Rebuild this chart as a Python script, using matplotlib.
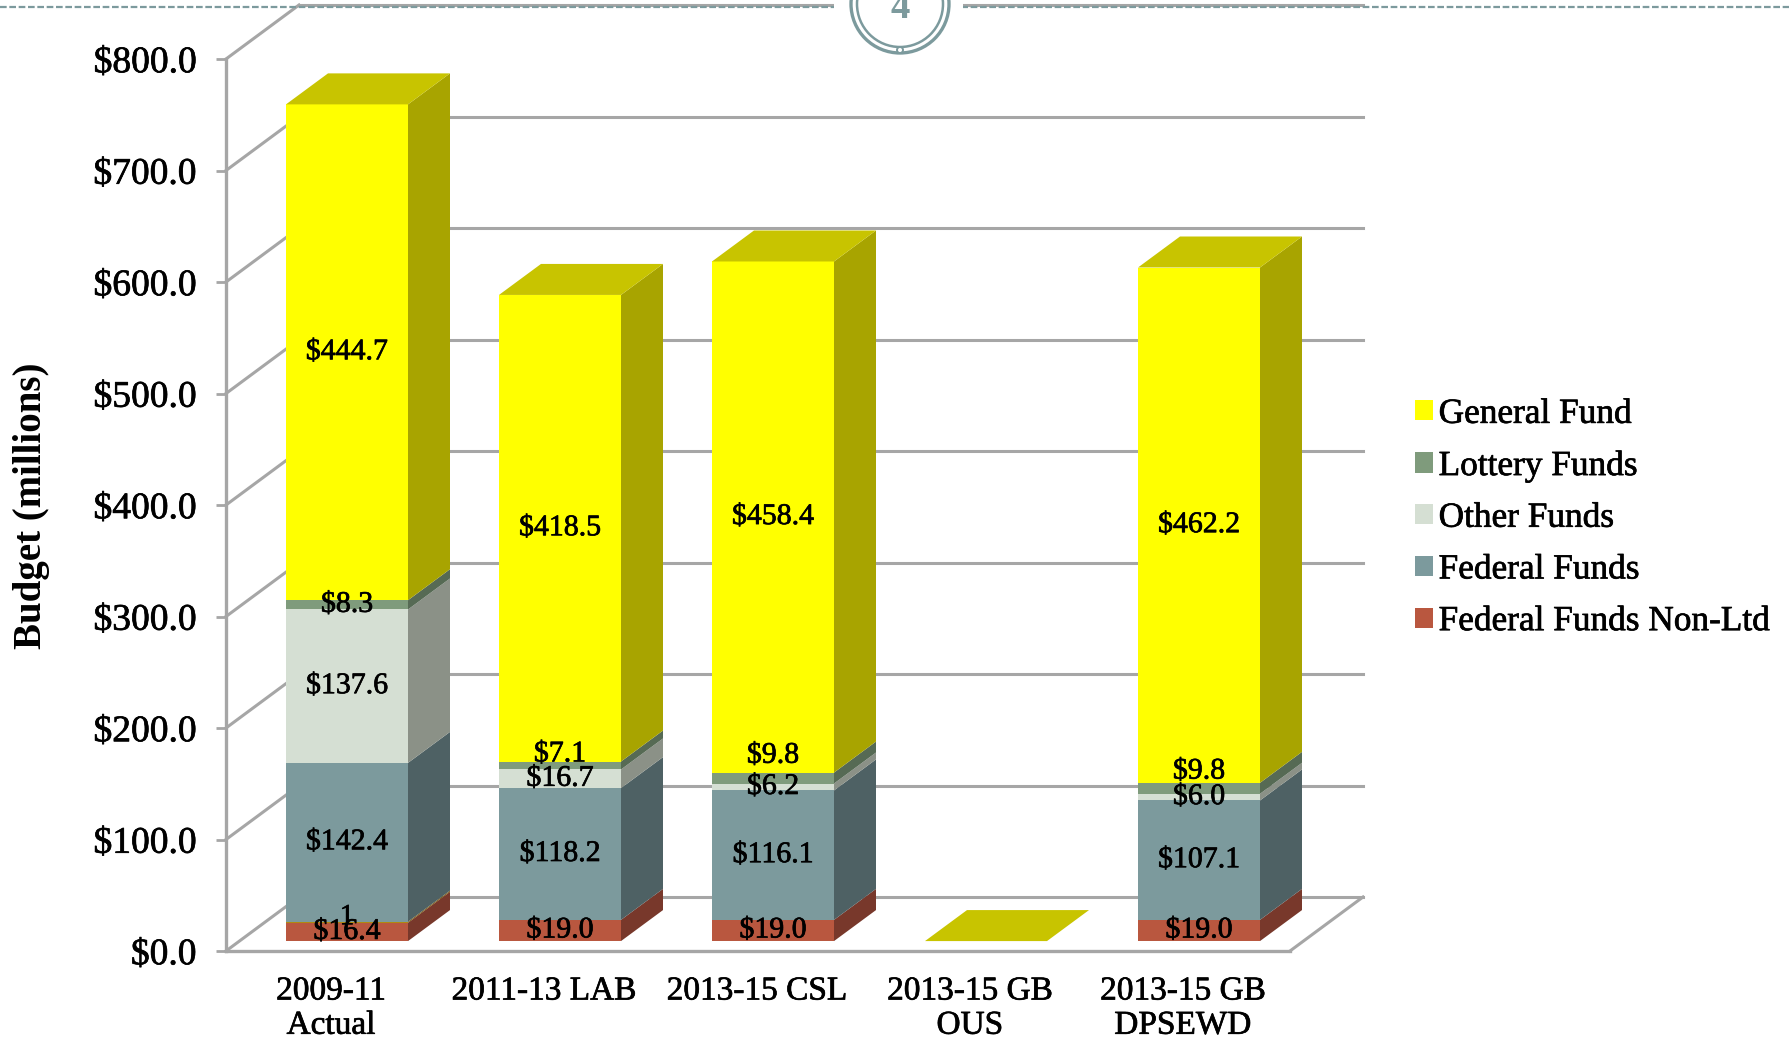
import matplotlib
matplotlib.use("Agg")
import matplotlib.pyplot as plt
import numpy as np
import matplotlib.patheffects as pe
from matplotlib.lines import Line2D
from matplotlib.patches import Circle, Patch, Polygon, Rectangle

W, H = 1789, 1038

categories = ["2009-11\nActual", "2011-13 LAB", "2013-15 CSL", "2013-15 GB\nOUS", "2013-15 GB\nDPSEWD"]
y_ticks = [0, 100, 200, 300, 400, 500, 600, 700, 800]

non_ltd = [16.4, 19.0, 19.0, 0, 19.0]
sliver = [1.0, 0, 0, 0, 0]
federal = [142.4, 118.2, 116.1, 0, 107.1]
other = [137.6, 16.7, 6.2, 0, 6.0]
lottery = [8.3, 7.1, 9.8, 0, 9.8]
general = [444.7, 418.5, 458.4, 0, 462.2]

plt.rcParams["font.family"] = ["Liberation Serif", "DejaVu Serif"]
thick = [pe.withStroke(linewidth=0.5, foreground="black")]

fig = plt.figure(figsize=(W / 100, H / 100), dpi=100)
# axes = front plane of the fake 3D box, in pixels
ax = fig.add_axes([226 / W, 1 - 951 / H, (1290 - 226) / W, (951 - 59) / H])
ax.set_xlim((226 - 347) / 213, (1290 - 347) / 213)
ax.set_ylim(0, 800)

grey = "#a6a6a6"
wall_dx, wall_dy = 73 / 213, 54 / 1.115
bar_dx, bar_dy = 42 / 213, 31 / 1.115
bar_w = 122 / 213
lift = 8.9  # bars stand a bit behind the axis plane
x0, x1 = ax.get_xlim()

# walls and floor
for t in y_ticks:
    ax.plot([x0, x0 + wall_dx], [t, t + wall_dy], color=grey, lw=2.2, clip_on=False, zorder=1)
    ax.plot([x0 + wall_dx, x1 + wall_dx], [t + wall_dy, t + wall_dy], color=grey, lw=2.2, clip_on=False, zorder=1)
ax.plot([x1, x1 + wall_dx], [0, wall_dy], color=grey, lw=2.2, clip_on=False, zorder=1)

series = [
    ("Federal Funds Non-Ltd", non_ltd, "#b9573f", "#78382b"),
    (None, sliver, "#b08a10", "#7a5a10"),
    ("Federal Funds", federal, "#7c9a9d", "#4e6164"),
    ("Other Funds", other, "#d5dfd3", "#8b9187"),
    ("Lottery Funds", lottery, "#7f9b7c", "#566a54"),
    ("General Fund", general, "#ffff00", "#a8a400"),
]
# the thin lottery labels were dragged upward in the original
lottery_bump = [0, 10, 20, 0, 15]

x = np.arange(len(categories))
bottom = np.zeros(len(categories))
for name, vals, col, side in series:
    vals = np.array(vals)
    ax.bar(x, vals, bar_w, bottom=bottom + lift, color=col, linewidth=0, clip_on=False, zorder=3)
    for i in x:
        if vals[i] == 0:
            continue
        r = i + bar_w / 2
        y_a = bottom[i] + lift
        y_b = y_a + vals[i]
        ax.add_patch(Polygon([(r, y_a), (r + bar_dx, y_a + bar_dy), (r + bar_dx, y_b + bar_dy), (r, y_b)],
                             facecolor=side, edgecolor="none", clip_on=False, zorder=3))
        if name is None:
            ax.text(i, y_a + 5, "1", ha="center", va="center", fontsize=21, zorder=5, path_effects=thick)
            continue
        mid = y_a + vals[i] / 2
        if name == "Lottery Funds":
            mid += lottery_bump[i]
        ax.text(i, mid, "$%.1f" % vals[i], ha="center", va="center", fontsize=21.5, zorder=5, path_effects=thick)
    bottom = bottom + vals

# yellow top faces, also the empty OUS bar
for i in x:
    l = i - bar_w / 2
    r = i + bar_w / 2
    y = bottom[i] + lift
    ax.add_patch(Polygon([(l, y), (r, y), (r + bar_dx, y + bar_dy), (l + bar_dx, y + bar_dy)],
                         facecolor="#c8c400", edgecolor="none", clip_on=False, zorder=3))

for s in ["top", "right"]:
    ax.spines[s].set_visible(False)
for s in ["left", "bottom"]:
    ax.spines[s].set_color(grey)
    ax.spines[s].set_linewidth(2.4)

ax.set_yticks(y_ticks)
ax.set_yticklabels(["$%.1f" % t for t in y_ticks], fontsize=27, va="center_baseline", path_effects=thick)
ax.tick_params(axis="y", length=7.5, width=2, color=grey, pad=14)
ax.set_xticks(x - 16 / 213)
ax.set_xticklabels(categories, fontsize=24, linespacing=1.16, path_effects=thick)
ax.tick_params(axis="x", length=0, pad=18)
ax.patch.set_alpha(0)

fig.text(32 / W, 1 - 506 / H, "Budget (millions)", rotation=90, ha="center", va="center",
         fontsize=28, fontweight="bold")

order = [5, 4, 3, 2, 0]
handles = [Patch(facecolor=series[k][2], label=series[k][0]) for k in order]
leg = ax.legend(handles=handles, loc="center left", bbox_to_anchor=(1415 / W, 1 - 518 / H),
                bbox_transform=fig.transFigure, frameon=False, fontsize=25.4, handlelength=0.5, handleheight=0.5,
                handletextpad=0.17, labelspacing=0.53, borderpad=0, borderaxespad=0)
for t in leg.get_texts():
    t.set_path_effects(thick)

# slide decoration at the top edge
teal = "#7c9a9d"
fig.add_artist(Line2D([0, 1], [1 - 7 / H, 1 - 7 / H], color=teal, lw=1.6, ls=(0, (3, 1.2))))
fx = fig.dpi_scale_trans
fig.add_artist(Rectangle((8.34, (H - 12) / 100), 1.29, 0.12, transform=fx, facecolor="white",
                         edgecolor="none", zorder=6))
fig.add_artist(Circle((9.0, (H - 4) / 100), 0.49, transform=fx, facecolor="white", edgecolor=teal, lw=2.4, zorder=7))
fig.add_artist(Circle((9.0, (H - 4) / 100), 0.43, transform=fx, facecolor="white", edgecolor=teal, lw=1.8, zorder=7))
fig.add_artist(Circle((9.0, (H - 50) / 100), 0.03, transform=fx, facecolor="white", edgecolor=teal, lw=1.4, zorder=8))
fig.text(900 / W, 1 - 8 / H, "4", ha="center", va="center", fontsize=28, fontweight="bold", color=teal, zorder=8)

fig.savefig("out.png", dpi=100, facecolor="white")
